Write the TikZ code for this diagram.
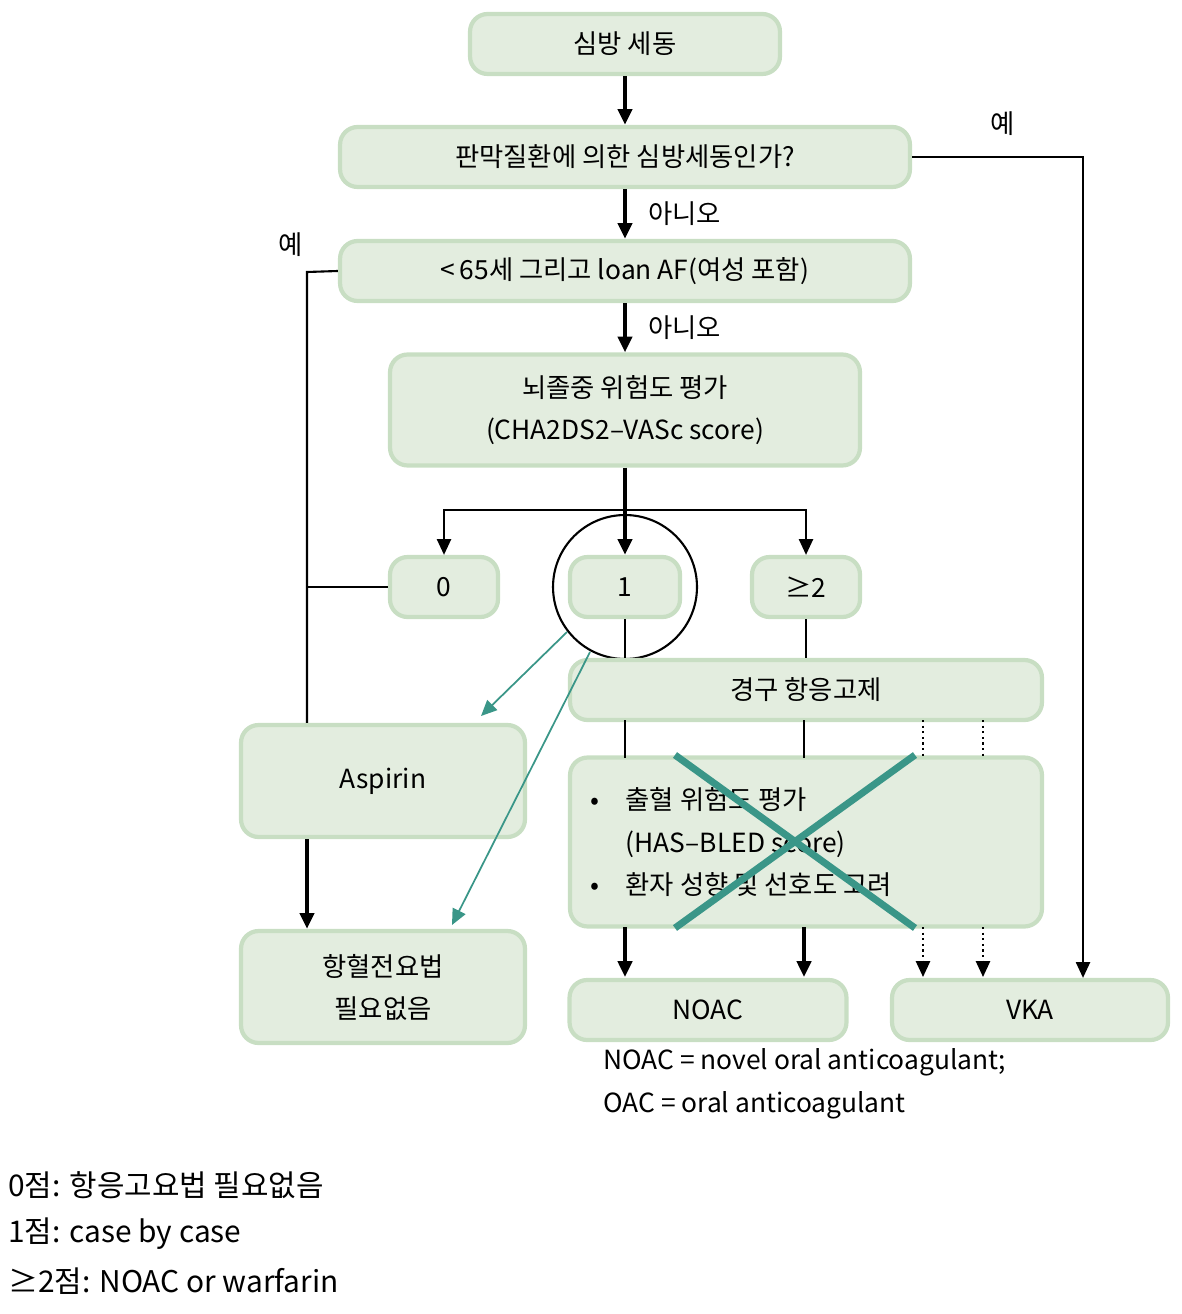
\documentclass[tikz,border=0pt]{standalone}
\usepackage{fontspec}
\setmainfont{Noto Sans CJK KR}
\usetikzlibrary{arrows.meta}
\definecolor{boxfill}{HTML}{E3EDDF}
\definecolor{boxline}{HTML}{C8DEC3}
\definecolor{crossteal}{HTML}{3A9688}
\tikzset{
>={Triangle[length=9pt,width=8pt]}, % arrow heads
box/.style={draw=boxline, fill=boxfill, line width=2.4pt, rounded corners=10pt, inner sep=0pt,
  font=\fontsize{15}{24}\selectfont, align=center}, % every rounded box
main/.style={line width=2.2pt, ->}, % thick flow arrows
thin/.style={line width=1.2pt}, % thin connectors
dots/.style={line width=1.2pt, dotted},
note/.style={font=\fontsize{15}{20}\selectfont, anchor=west, inner sep=0pt},
}

\begin{document}
\begin{tikzpicture}[x=0.02cm, y=-0.02cm]
  \useasboundingbox (0,0) rectangle (1182,1314);

  \node[box, minimum width=6.2cm, minimum height=1.2cm] (start) at (625,44) {심방 세동};
  \node[box, minimum width=11.4cm, minimum height=1.2cm] (valve) at (625,157) {판막질환에 의한 심방세동인가?};
  \node[box, minimum width=11.4cm, minimum height=1.2cm] (lone) at (625,271) {<\,65세 그리고 loan AF(여성 포함)};
  \node[box, minimum width=9.4cm, minimum height=2.22cm] (risk) at (625,410) {뇌졸중 위험도 평가\\(CHA2DS2–VASc score)};
  \node[box, minimum width=2.16cm, minimum height=1.2cm] (zero) at (444,587) {0};
  \node[box, minimum width=2.2cm, minimum height=1.2cm] (one) at (625,587) {1};
  \node[box, minimum width=2.16cm, minimum height=1.2cm] (two) at (806,587) {≥2};
  \node[draw, thin, circle, minimum size=2.88cm] (ring) at (625,587) {};
  \node[box, minimum width=9.44cm, minimum height=1.2cm] (oac) at (806,690) {경구 항응고제};
  \node[box, minimum width=5.68cm, minimum height=2.24cm] (aspirin) at (383,781) {Aspirin};
  \node[box, minimum width=9.44cm, minimum height=3.38cm] (bleed) at (806,842) {};
  \node[box, minimum width=5.68cm, minimum height=2.24cm] (none) at (383,987) {항혈전요법\\필요없음};
  \node[box, minimum width=5.54cm, minimum height=1.2cm] (noac) at (708,1010) {NOAC};
  \node[box, minimum width=5.52cm, minimum height=1.2cm] (vka) at (1030,1010) {VKA};

  \node[note, align=left, font=\fontsize{15}{24}\selectfont] (bleedtext) at (590,842)
    {•\quad 출혈 위험도 평가\\\phantom{•\quad}(HAS–BLED score)\\•\quad 환자 성향 및 선호도 고려};

  % main flow
  \draw[main] (start) -- (valve);
  \draw[main] (valve) -- node[note, right=12pt] {아니오} (lone);
  \draw[main] (lone) -- node[note, right=12pt] {아니오} (risk);
  \draw[main] (risk) -- (one);
  \draw[main] (aspirin.south -| 307,0) -- (none.north -| 307,0);

  % yes branches
  \coordinate (yesr) at (1083,157);
  \draw[thin, ->] (valve.east) -- (yesr) -- (vka.north -| yesr);
  \node[note] at (990,124) {예};
  \coordinate (yesl) at (307,272);
  \draw[thin] (lone.west) -- (yesl) -- (aspirin.north -| yesl);
  \draw[thin] (zero.west) -- (zero.west -| yesl);
  \node[note] at (278,245) {예};

  % score split
  \coordinate (split) at (625,510);
  \draw[thin, ->] (split) -| (zero.north);
  \draw[thin, ->] (split) -| (two.north);
  \draw[thin] (one.south) -- (oac.north -| one.south);
  \draw[thin] (two.south) -- (oac.north -| two.south);

  % to treatments
  \foreach \x in {625,804} {
    \draw[thin] (\x,720) -- (\x,758);
    \draw[main] (\x,927) -- (\x,977);
  }
  \foreach \x in {923,983} {
    \draw[dots] (\x,720) -- (\x,758);
    \draw[dots, ->] (\x,927) -- (\x,977);
  }

  % case by case
  \draw[crossteal, line width=1pt, ->] (567,632) -- (481,716);
  \draw[crossteal, line width=1pt, ->] (590,652) -- (452,925);
  \draw[crossteal, line width=4pt] (675,755) -- (915,928) (915,755) -- (675,928);

  % notes
  \node[note] at (603,1062) {NOAC = novel oral anticoagulant;};
  \node[note] at (603,1105) {OAC = oral anticoagulant};
  \node[note, font=\fontsize{17}{20}\selectfont] at (8,1185) {0점: 항응고요법 필요없음};
  \node[note, font=\fontsize{17}{20}\selectfont] at (8,1234) {1점: case by case};
  \node[note, font=\fontsize{17}{20}\selectfont] at (8,1281) {≥2점: NOAC or warfarin};
\end{tikzpicture}
\end{document}
